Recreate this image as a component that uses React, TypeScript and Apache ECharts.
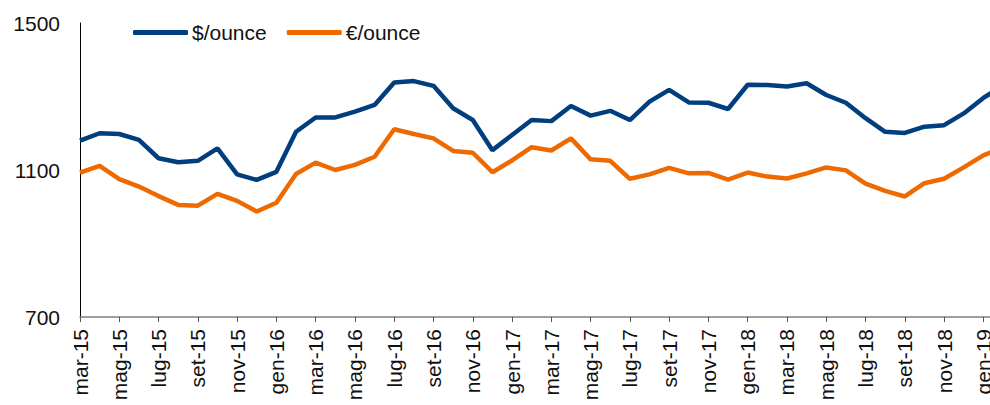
import React, { useEffect, useRef } from "react";
import * as echarts from "echarts";

const months = ["mar-15","apr-15","mag-15","giu-15","lug-15","ago-15","set-15","ott-15","nov-15","dic-15",
  "gen-16","feb-16","mar-16","apr-16","mag-16","giu-16","lug-16","ago-16","set-16","ott-16","nov-16","dic-16",
  "gen-17","feb-17","mar-17","apr-17","mag-17","giu-17","lug-17","ago-17","set-17","ott-17","nov-17","dic-17",
  "gen-18","feb-18","mar-18","apr-18","mag-18","giu-18","lug-18","ago-18","set-18","ott-18","nov-18","dic-18",
  "gen-19","feb-19"];

const usdPerOunce = [1180,1200,1198,1182,1132,1121,1125,1159,1088,1073,
  1095,1204,1243,1243,1259,1277,1338,1342,1329,1268,1236,1154,
  1195,1236,1233,1274,1248,1261,1236,1286,1318,1284,1283,1266,
  1332,1331,1327,1336,1304,1283,1241,1204,1201,1218,1222,1254,
  1296,1330];

const eurPerOunce = [1093,1111,1075,1055,1029,1005,1003,1035,1016,987,
  1011,1089,1120,1100,1114,1136,1211,1198,1186,1152,1147,1094,
  1126,1162,1153,1186,1129,1125,1076,1088,1106,1091,1092,1074,
  1093,1082,1077,1091,1107,1099,1063,1043,1028,1064,1076,1107,
  1140,1162];

const yTicks = { min: 700, max: 1500, interval: 400 };

export default function App() {
  const ref = useRef<HTMLDivElement>(null);
  useEffect(() => {
    if (!ref.current) return;
    const chart = echarts.init(ref.current, undefined, { renderer: "svg" });
    const font = "'Liberation Sans', Arial, sans-serif";
    chart.setOption({
      animation: false,
      textStyle: { fontFamily: font },
      legend: {
        left: 133,
        top: 22,
        padding: 0,
        itemWidth: 55,
        itemHeight: 5,
        itemGap: 20,
        icon: "roundRect",
        textStyle: { fontSize: 21, color: "#111", fontFamily: font, padding: [0, 0, 0, -1] },
        data: ["$/ounce", "€/ounce"],
      },
      grid: { left: 80, right: 10, top: 23, bottom: 88, containLabel: false },
      xAxis: {
        type: "category",
        data: months,
        boundaryGap: false,
        axisLine: { lineStyle: { color: "#808080", width: 1.5 } },
        axisTick: { interval: 1, length: 5, lineStyle: { color: "#555" } },
        axisLabel: {
          interval: 1,
          rotate: 90,
          margin: 12,
          fontSize: 21,
          color: "#111",
          fontFamily: font,
        },
      },
      yAxis: {
        type: "value",
        min: yTicks.min,
        max: yTicks.max,
        interval: yTicks.interval,
        splitLine: { show: false },
        axisLine: { show: true, lineStyle: { color: "#000", width: 1 } },
        axisTick: { show: false },
        axisLabel: {
          fontSize: 21,
          color: "#111",
          margin: 20,
          fontFamily: font,
          formatter: (v: number) => String(v),
        },
      },
      series: [
        {
          name: "$/ounce",
          type: "line",
          data: usdPerOunce,
          symbol: "none",
          lineStyle: { color: "#003E7E", width: 4.5 },
          itemStyle: { color: "#003E7E" },
        },
        {
          name: "€/ounce",
          type: "line",
          data: eurPerOunce,
          symbol: "none",
          lineStyle: { color: "#EE6A00", width: 4.5 },
          itemStyle: { color: "#EE6A00" },
        },
      ],
    });
    return () => chart.dispose();
  }, []);
  return (
    <div style={{ position: "fixed", left: 0, top: 0, width: 990, height: 405, overflow: "hidden", background: "#fff" }}>
      <div ref={ref} style={{ width: 1013, height: 405 }} />
    </div>
  );
}
